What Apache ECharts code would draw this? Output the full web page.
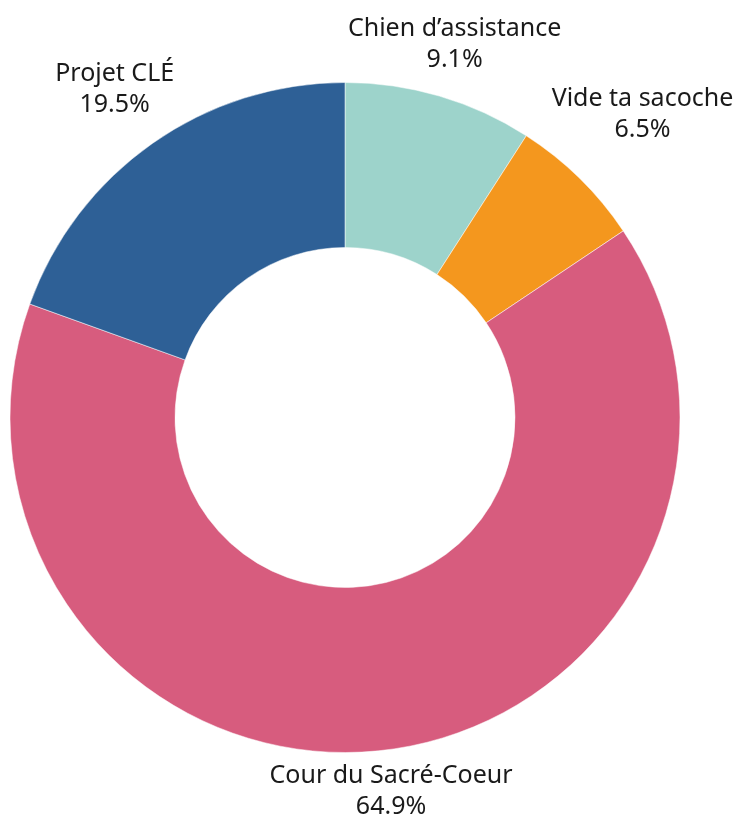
<!DOCTYPE html>
<html>
<head>
<meta charset="utf-8">
<script src="https://cdn.jsdelivr.net/npm/echarts@6/dist/echarts.min.js"></script>
<style>html,body{margin:0;padding:0;background:#fff;}#chart{width:749px;height:818px;}</style>
</head>
<body>
<div id="chart"></div>
<script>
const categories = ["Chien d\u2019assistance", "Vide ta sacoche", "Cour du Sacr\u00e9-Coeur", "Projet CL\u00c9"];
const values = [9.1, 6.5, 64.9, 19.5];
const colors = ["#9dd3cb", "#f4971e", "#d75c7e", "#2e6096"];
// extra radial spacing of each label beyond the ring (layout only)
const labelGaps = [-6, 4, -4, 6];

const CX = 345, CY = 417.5, R_IN = 170, R_OUT = 335;
const total = values.reduce((a, b) => a + b, 0);

const chart = echarts.init(document.getElementById('chart'), null, {renderer: 'canvas'});
chart.setOption({
  animation: false,
  backgroundColor: '#ffffff',
  series: [{
    type: 'pie',
    center: [CX, CY],
    radius: [R_IN, R_OUT],
    startAngle: 90,
    clockwise: true,
    avoidLabelOverlap: false,
    itemStyle: {borderColor: '#ffffff', borderWidth: 0.5},
    label: {
      show: true,
      position: 'outside',
      fontFamily: 'Noto Sans',
      fontSize: 25,
      lineHeight: 31,
      color: '#1a1a1a',
      formatter: p => p.name + '\n' + p.value.toFixed(1) + '%'
    },
    labelLine: {show: false},
    labelLayout: function (params) {
      const i = params.dataIndex;
      let cum = 0;
      for (let k = 0; k < i; k++) cum += values[k];
      const a = (cum + values[i] / 2) / total * Math.PI * 2;
      const dx = Math.sin(a), dy = -Math.cos(a);
      const w = params.labelRect.width, h = params.labelRect.height;
      const ext = (Math.abs(dx) * w + Math.abs(dy) * h) / 2;
      const dist = R_OUT + labelGaps[i] + ext;
      return {x: CX + dx * dist, y: CY + dy * dist, align: 'center', verticalAlign: 'middle'};
    },
    data: categories.map((c, i) => ({name: c, value: values[i], itemStyle: {color: colors[i]}}))
  }]
});
</script>
</body>
</html>
